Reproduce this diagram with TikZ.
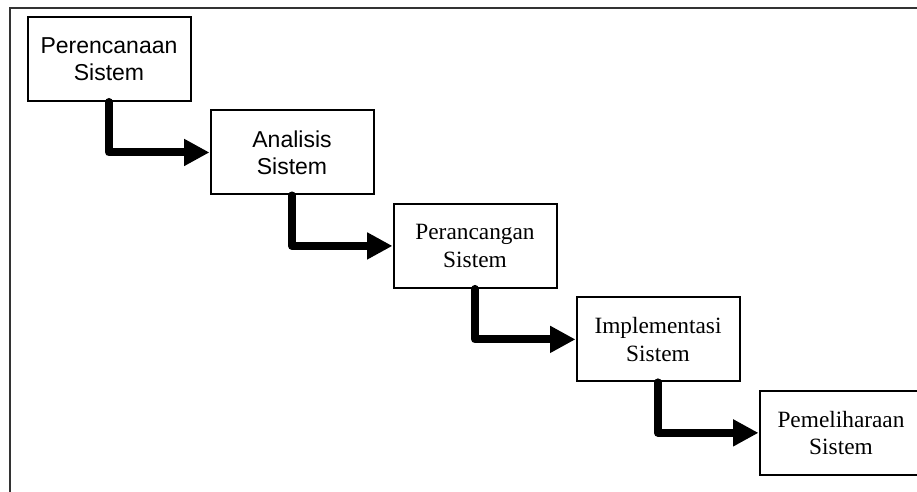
\documentclass[tikz,border=0pt]{standalone}
\usepackage{fontspec}
\setmainfont{Liberation Serif}
\setsansfont{Liberation Sans}
\usetikzlibrary{arrows.meta,positioning}

\begin{document}
\begin{tikzpicture}[x=0.75pt,y=0.75pt,node distance=5.6pt and 13.5pt,
      tahap/.style={rectangle,draw=black,line width=1.5pt,minimum width=122.25pt,minimum height=63pt,
        align=center,inner sep=0pt,font=\fontsize{17.5}{20.5}\selectfont},
      sans/.style={font=\fontsize{17.25}{20.5}\selectfont\sffamily},
      alur/.style={line width=6pt,line cap=round,line join=round,-{Triangle[length=19pt,width=19pt]}}]
      \path[use as bounding box,clip] (0,0) rectangle (917,492);
      \draw[line width=1pt,black!80] (10,0) |- (917,484);
      \node[tahap,sans] (a) at (109,433) {Perencanaan\\Sistem};
      \node[tahap,sans] (b) [below right=of a] {Analisis\\Sistem};
      \node[tahap] (c) [below right=of b] {Perancangan\\Sistem};
      \node[tahap] (d) [below right=of c] {Implementasi\\Sistem};
      \node[tahap] (e) [below right=of d] {Pemeliharaan\\Sistem};
      \draw[alur] (a.south) |- (b.west);
      \draw[alur] (b.south) |- (c.west);
      \draw[alur] (c.south) |- (d.west);
      \draw[alur] (d.south) |- (e.west);
\end{tikzpicture}
\end{document}
